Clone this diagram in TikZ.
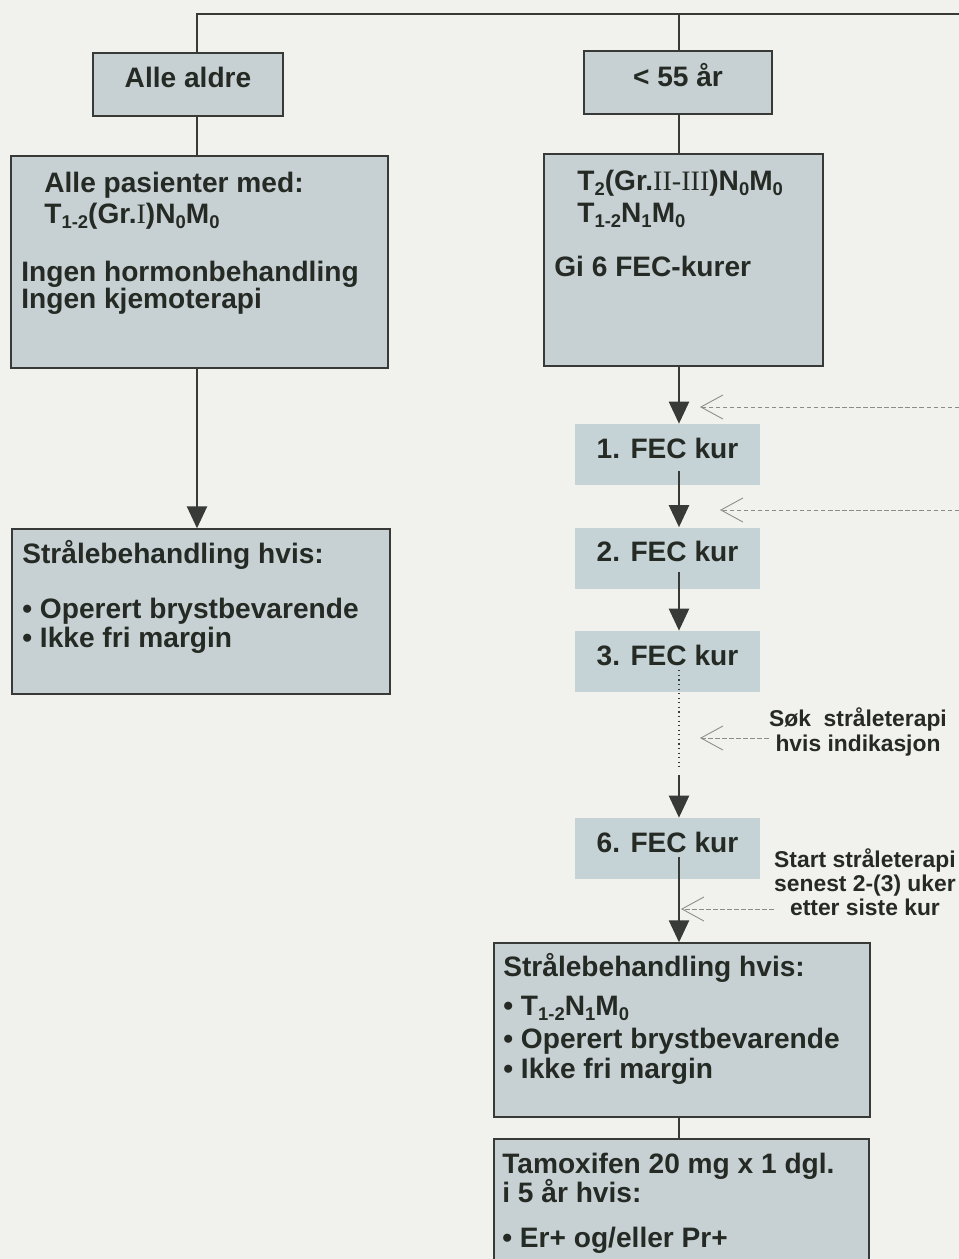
\documentclass[tikz,border=0pt]{standalone}
\usepackage{fontspec}
\setmainfont{Liberation Sans}
\newfontfamily\romfont{Liberation Serif}
\usepackage{xcolor}
\usepackage{tikz}
\usetikzlibrary{arrows.meta,calc}

\definecolor{bakgrunn}{RGB}{241,241,238}
\definecolor{boksfyll}{RGB}{199,209,212}
\definecolor{kurfyll}{RGB}{197,211,215}
\definecolor{strek}{RGB}{55,58,55}
\definecolor{tekst}{RGB}{38,42,36}
\definecolor{hjelp}{RGB}{140,140,140}

\newcommand{\boksfont}{\fontsize{16}{15.5}\selectfont\bfseries}
\newcommand{\notefont}{\fontsize{13}{13.8}\selectfont\bfseries}
\newcommand{\nedre}[1]{\raisebox{-0.35ex}{\fontsize{10.5}{10.5}\selectfont #1}}

\begin{document}
\begin{tikzpicture}[x=0.02cm, y=-0.02cm,
    boks/.style={draw=strek, fill=boksfyll, line width=0.8pt, inner sep=0pt, font=\boksfont, text=tekst},
    kur/.style={fill=kurfyll, minimum width=3.7cm, minimum height=1.22cm, inner sep=0pt, text depth=0.25cm, font=\boksfont, text=tekst},
    txt/.style={anchor=base west, inner sep=0pt, font=\boksfont, text=tekst},
    note/.style={align=center, inner sep=0pt, font=\notefont, text=tekst},
    forb/.style={draw=strek, line width=0.8pt},
    pil/.style={draw=strek, line width=1.4pt, -{Triangle[length=0.44cm, width=0.4cm]}},
    hint/.style={draw=hjelp, line width=0.5pt, dash pattern=on 2.5pt off 1.5pt, -{Straight Barb[length=0.44cm, width=0.48cm]}},
    prikk/.style={draw=strek, line width=0.6pt, dotted}]

    \fill[bakgrunn] (0,0) rectangle (959,1259);
    \useasboundingbox (0,0) rectangle (959,1259);
    \clip (0,0) rectangle (959,1259);

    % Aldersgrupper
    \node[boks, minimum width=3.8cm, minimum height=1.26cm, text depth=0.3cm] (aldre) at (188,84.5) {Alle aldre};
    \node[boks, minimum width=3.76cm, minimum height=1.26cm, text depth=0.3cm] (ung) at (678,82.5) {< 55 år};

    % Venstre gren
    \node[boks, minimum width=7.54cm, minimum height=4.24cm] (pasV) at (199.5,262) {};
    \node[txt] (pasV1) at (44,192) {Alle pasienter med:};
    \node[txt] (pasV2) at (44,223) {T\nedre{1-2}(Gr.{\romfont\mdseries I})N\nedre{0}M\nedre{0}};
    \node[txt] (pasV3) at (21,281) {Ingen hormonbehandling};
    \node[txt] (pasV4) at (21,308) {Ingen kjemoterapi};

    \node[boks, minimum width=7.56cm, minimum height=3.3cm] (straaleV) at (201,611.5) {};
    \node[txt] (straaleV1) at (22,563) {Strålebehandling hvis:};
    \node[txt] (straaleV2) at (22,618) {• Operert brystbevarende};
    \node[txt] (straaleV3) at (22,647) {• Ikke fri margin};

    % Hoyre gren
    \node[boks, minimum width=5.58cm, minimum height=4.24cm] (pasH) at (683.5,260) {};
    \node[txt] (pasH1) at (577,190) {T\nedre{2}(Gr.{\romfont\mdseries II-III})N\nedre{0}M\nedre{0}};
    \node[txt] (pasH2) at (577,222) {T\nedre{1-2}N\nedre{1}M\nedre{0}};
    \node[txt] (pasH3) at (554,276) {Gi 6 FEC-kurer};

    % FEC-kurer
    \foreach \n/\y in {1/454.5, 2/558, 3/661.5, 6/848.5}
        \node[kur] (kur\n) at (667.5,\y) {\n. FEC kur};

    \node[boks, minimum width=7.52cm, minimum height=3.48cm] (straaleH) at (682,1030) {};
    \node[txt] (straaleH1) at (503,976) {Strålebehandling hvis:};
    \node[txt] (straaleH2) at (503,1015) {• T\nedre{1-2}N\nedre{1}M\nedre{0}};
    \node[txt] (straaleH3) at (503,1048) {• Operert brystbevarende};
    \node[txt] (straaleH4) at (503,1078) {• Ikke fri margin};

    \node[boks, minimum width=7.5cm, minimum height=2.84cm] (tamox) at (681.5,1210) {};
    \node[txt] (tamox1) at (502,1173) {Tamoxifen 20 mg x 1 dgl.};
    \node[txt] (tamox2) at (502,1202) {i 5 år hvis:};
    \node[txt] (tamox3) at (502,1247) {• Er+ og/eller Pr+};

    % Merknader
    \node[note] (sok) at (858,732) {Søk~~stråleterapi\\hvis indikasjon};
    \node[note] (start) at (865,882) {Start stråleterapi\\senest 2-(3) uker\\etter siste kur};

    % Forbindelser
    \coordinate (vsoyle) at (197,0);
    \coordinate (hsoyle) at (679,0);
    \coordinate (hjorne) at (959,14);
    \coordinate (brudd) at (679,768);
    \draw[forb] (vsoyle |- aldre.north) |- (hjorne);
    \draw[forb] (hsoyle |- hjorne) -- (hsoyle |- ung.north);
    \draw[forb] (vsoyle |- aldre.south) -- (vsoyle |- pasV.north);
    \draw[forb] (hsoyle |- ung.south) -- (hsoyle |- pasH.north);
    \draw[pil] (vsoyle |- pasV.south) -- (vsoyle |- straaleV.north);
    \draw[pil] (hsoyle |- pasH.south) -- (hsoyle |- kur1.north);
    \draw[pil] ($(hsoyle |- kur1.south)+(0,-14)$) -- (hsoyle |- kur2.north);
    \draw[pil] ($(hsoyle |- kur2.south)+(0,-17)$) -- (hsoyle |- kur3.north);
    \draw[prikk] ($(hsoyle |- kur3.south)+(0,-22)$) -- (brudd);
    \draw[pil] ($(brudd)+(0,7)$) -- (hsoyle |- kur6.north);
    \draw[pil] ($(hsoyle |- kur6.south)+(0,-22)$) -- (hsoyle |- straaleH.north);
    \draw[forb] (hsoyle |- straaleH.south) -- (hsoyle |- tamox.north);

    % Stiplede henvisninger
    \coordinate (kant1) at (959,407);
    \coordinate (inn1) at (700,407);
    \coordinate (kant2) at (959,510);
    \coordinate (inn2) at (720,510);
    \coordinate (inn3) at (700,738);
    \coordinate (inn4) at (681,909);
    \draw[hint] (kant1) -- (inn1);
    \draw[hint] (kant2) -- (inn2);
    \draw[hint] (sok.west |- inn3) -- (inn3);
    \draw[hint] (start.west |- inn4) -- (inn4);
\end{tikzpicture}
\end{document}
